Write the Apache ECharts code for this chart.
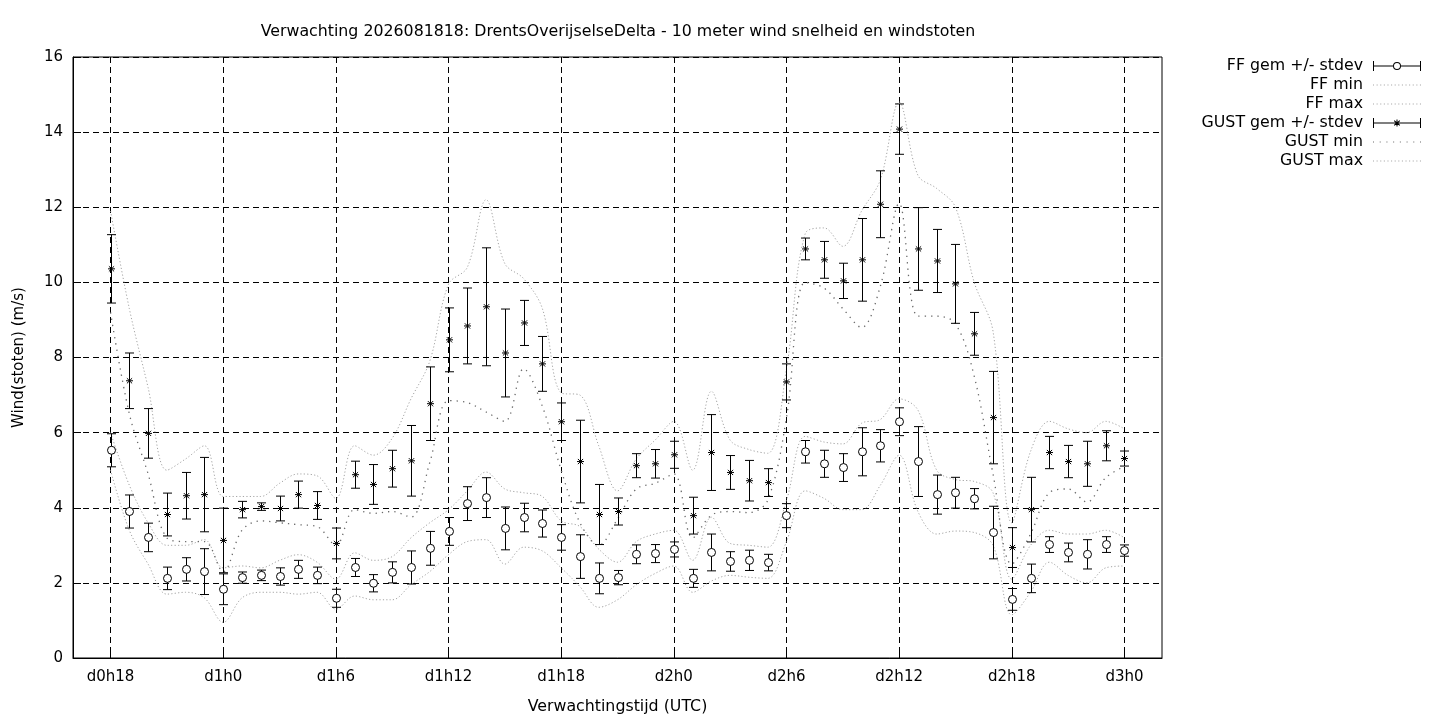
<!DOCTYPE html>
<html>
<head>
<meta charset="utf-8">
<script src="https://cdn.jsdelivr.net/npm/echarts@6/dist/echarts.min.js"></script>
<style>
html,body{margin:0;padding:0;background:#fff;}
#chart{width:1440px;height:720px;}
</style>
</head>
<body>
<div id="chart"></div>
<script>
// ---- data (lead time in hours after d0h18) ----
const leadHours = [0,1,2,3,4,5,6,7,8,9,10,11,12,13,14,15,16,17,18,19,20,21,22,23,24,25,26,27,28,29,30,31,32,33,34,35,36,37,38,39,40,41,42,43,44,45,46,47,48,49,50,51,52,53,54];
const tickLabels = ['d0h18','d1h0','d1h6','d1h12','d1h18','d2h0','d2h6','d2h12','d2h18','d3h0'];
const ffMean = [5.53,3.90,3.21,2.12,2.36,2.30,1.83,2.14,2.20,2.17,2.36,2.20,1.59,2.41,1.99,2.28,2.41,2.92,3.37,4.11,4.27,3.45,3.74,3.58,3.21,2.70,2.12,2.14,2.76,2.78,2.89,2.12,2.81,2.57,2.60,2.54,3.79,5.49,5.17,5.07,5.49,5.65,6.29,5.23,4.35,4.40,4.24,3.34,1.56,2.12,3.02,2.81,2.76,3.02,2.86];
const ffSd = [0.44,0.44,0.38,0.30,0.31,0.61,0.41,0.15,0.14,0.23,0.24,0.22,0.24,0.24,0.23,0.28,0.44,0.45,0.37,0.45,0.53,0.57,0.38,0.36,0.34,0.58,0.41,0.19,0.25,0.24,0.20,0.24,0.49,0.26,0.27,0.22,0.32,0.30,0.36,0.37,0.64,0.43,0.37,0.93,0.52,0.41,0.27,0.70,0.29,0.38,0.21,0.25,0.39,0.21,0.15];
const ffMin = [5.0,3.4,2.5,1.7,1.75,1.6,0.95,1.6,1.75,1.75,1.7,1.75,1.3,1.65,1.55,1.55,1.95,2.3,2.75,3.1,3.15,2.5,2.95,2.85,2.4,1.9,1.35,1.55,1.95,2.25,2.45,1.75,2.05,2.2,2.15,2.12,3.1,4.45,4.25,3.95,3.95,4.6,5.4,3.9,3.3,3.38,3.34,3.0,1.15,1.75,2.55,2.2,2.0,2.4,2.45];
const ffMax = [6.0,4.6,3.6,3.0,3.0,3.15,2.4,2.45,2.4,2.6,2.75,2.55,2.1,2.8,2.6,2.7,3.2,3.6,3.95,4.45,4.95,4.5,4.4,4.3,3.65,3.5,2.9,2.55,3.1,3.3,3.4,2.6,3.75,3.05,3.0,2.95,4.2,5.9,5.75,5.7,6.25,6.35,6.9,6.6,5.0,4.75,4.7,4.4,2.1,3.0,3.4,3.3,3.3,3.4,3.2];
const gustMean = [10.36,7.38,5.98,3.82,4.32,4.35,3.13,3.95,4.03,3.98,4.35,4.06,3.05,4.88,4.62,5.04,5.25,6.77,8.47,8.84,9.35,8.12,8.92,7.83,6.29,5.23,3.82,3.90,5.12,5.17,5.41,3.79,5.47,4.94,4.72,4.67,7.35,10.89,10.60,10.04,10.60,12.08,14.08,10.89,10.57,9.96,8.63,6.40,2.94,3.95,5.47,5.23,5.17,5.65,5.31];
const gustSd = [0.91,0.74,0.66,0.57,0.62,0.99,0.86,0.22,0.10,0.33,0.36,0.37,0.41,0.36,0.53,0.49,0.94,0.98,0.85,1.01,1.57,1.17,0.60,0.73,0.50,1.10,0.80,0.36,0.32,0.38,0.36,0.49,1.01,0.45,0.54,0.37,0.48,0.29,0.49,0.47,1.10,0.89,0.67,1.10,0.84,1.05,0.57,1.23,0.53,0.86,0.43,0.43,0.60,0.40,0.20];
const gustMin = [9.2,6.5,4.9,3.2,3.1,3.1,2.3,3.4,3.65,3.6,3.55,3.5,3.0,3.95,3.85,3.9,3.75,5.2,6.85,6.8,6.55,6.3,7.7,6.7,5.0,3.6,3.0,3.7,4.5,4.65,4.9,3.2,3.8,3.9,3.87,4.2,6.4,10.0,9.85,9.3,8.8,9.9,12.1,9.1,9.1,8.9,7.5,4.9,2.5,3.3,4.4,4.5,4.15,4.8,5.1];
const gustMax = [11.9,9.3,7.2,5.0,5.3,5.65,4.3,4.3,4.3,4.65,4.9,4.85,4.25,5.65,5.4,5.85,6.9,7.9,9.95,10.4,12.2,10.5,10.1,9.3,7.06,7.0,5.65,4.45,5.3,5.8,6.3,5.0,7.1,5.8,5.55,5.45,7.7,11.3,11.45,10.96,11.9,12.73,14.8,12.85,12.5,12.0,10.0,8.7,3.6,5.5,6.3,6.1,6.0,6.3,6.1];

const axisStartHour = -2, axisEndHour = 56, labelStep = 6;
const FONT = 'DejaVu Sans';

// axis categories: one per hour
const hourCats = [];
for (let h = axisStartHour; h <= axisEndHour; h++) hourCats.push(String(h));
const isMajor = (idx) => {
  const h = idx + axisStartHour;
  return h >= 0 && h % labelStep === 0 && (h / labelStep) < tickLabels.length;
};

const idxOf = (h) => h - axisStartHour;
const errData = (mean, sd) => leadHours.map((h, i) => [idxOf(h), mean[i], sd[i]]);
const lineData = (arr) => leadHours.map((h, i) => [idxOf(h), arr[i]]);

function makeErrRender(marker) {
  return function (params, api) {
    const x = api.value(0), m = api.value(1), s = api.value(2);
    const hi = api.coord([x, m + s]);
    const lo = api.coord([x, m - s]);
    const mid = api.coord([x, m]);
    const px = Math.round(hi[0]) + 0.5;
    const cw = 4.5;
    const st = { stroke: '#000', lineWidth: 1 };
    const children = [
      { type: 'line', shape: { x1: px, y1: hi[1], x2: px, y2: lo[1] }, style: st },
      { type: 'line', shape: { x1: px - cw, y1: hi[1], x2: px + cw, y2: hi[1] }, style: st },
      { type: 'line', shape: { x1: px - cw, y1: lo[1], x2: px + cw, y2: lo[1] }, style: st }
    ];
    if (marker === 'circle') {
      children.push({ type: 'circle', shape: { cx: px, cy: mid[1], r: 4 }, style: { fill: '#fff', stroke: '#000', lineWidth: 1 } });
    } else {
      const r = 3.5, d = 2.6;
      const y = mid[1];
      children.push({ type: 'line', shape: { x1: px - r, y1: y, x2: px + r, y2: y }, style: st });
      children.push({ type: 'line', shape: { x1: px, y1: y - r, x2: px, y2: y + r }, style: st });
      children.push({ type: 'line', shape: { x1: px - d, y1: y - d, x2: px + d, y2: y + d }, style: st });
      children.push({ type: 'line', shape: { x1: px - d, y1: y + d, x2: px + d, y2: y - d }, style: st });
    }
    return { type: 'group', children };
  };
}

const ffIcon = 'path://M0,0 h1 v10 h-1 Z M1,4.5 h19 v1 h-19 Z M28,4.5 h19 v1 h-19 Z M47,0 h1 v10 h-1 Z M20,5 A4,4 0 1,1 28,5 A4,4 0 1,1 20,5 Z M21,5 A3,3 0 1,0 27,5 A3,3 0 1,0 21,5 Z';
const gustIcon = 'path://M0,0 h1 v10 h-1 Z M1,4.5 h46 v1 h-46 Z M47,0 h1 v10 h-1 Z M23.5,1.5 h1 v7 h-1 Z M20.8,2.9 L21.5,2.2 L27.2,7.1 L26.5,7.8 Z M26.5,2.2 L27.2,2.9 L21.5,7.8 L20.8,7.1 Z';
function dotIcon(step) {
  let p = 'path://';
  for (let x = 0; x <= 47; x += step) p += 'M' + x.toFixed(2) + ',4.5 h1 v1 h-1 Z ';
  return p;
}

const lightColor = '#a5a5a5', darkColor = '#6a6a6a';
const lightDot = { color: lightColor, width: 1, type: [1.2, 2.2] };
const gustMinDot = { color: darkColor, width: 1.3, type: [1.3, 5] };

const chart = echarts.init(document.getElementById('chart'), null, { renderer: 'canvas' });
const option = {
  animation: false,
  backgroundColor: '#fff',
  textStyle: { fontFamily: FONT, color: '#000' },
  title: {
    text: 'Verwachting 2026081818: DrentsOverijselseDelta - 10 meter wind snelheid en windstoten',
    left: 613, top: 19, textAlign: 'center',
    textStyle: { fontFamily: FONT, fontSize: 15.8, fontWeight: 'normal', color: '#000' }
  },
  legend: {
    orient: 'vertical', align: 'right', right: 14, top: 53,
    itemWidth: 48, itemHeight: 10, itemGap: 3,
    textStyle: { fontFamily: FONT, fontSize: 15.8, color: '#000', padding: [0, 5, 0, 0] },
    data: [
      { name: 'FF gem +/- stdev', icon: ffIcon, itemStyle: { color: '#000', borderWidth: 0 } },
      { name: 'FF min', icon: dotIcon(3.4), itemStyle: { color: lightColor, borderWidth: 0 } },
      { name: 'FF max', icon: dotIcon(3.4), itemStyle: { color: lightColor, borderWidth: 0 } },
      { name: 'GUST gem +/- stdev', icon: gustIcon, itemStyle: { color: '#000', borderWidth: 0 } },
      { name: 'GUST min', icon: dotIcon(6.7), itemStyle: { color: darkColor, borderWidth: 0 } },
      { name: 'GUST max', icon: dotIcon(3.4), itemStyle: { color: lightColor, borderWidth: 0 } }
    ]
  },
  grid: { left: 73, right: 278, top: 57, bottom: 61, show: true, borderColor: '#000', borderWidth: 1, backgroundColor: 'transparent' },
  xAxis: {
    type: 'category', data: hourCats, boundaryGap: false,
    name: 'Verwachtingstijd (UTC)', nameLocation: 'middle', nameGap: 41,
    nameTextStyle: { fontFamily: FONT, fontSize: 15.8, color: '#000' },
    axisLine: { show: true, lineStyle: { color: '#000', width: 1 } },
    axisTick: { show: true, inside: true, length: 8, interval: (i) => isMajor(i), lineStyle: { color: '#000' } },
    axisLabel: {
      interval: (i) => isMajor(i), margin: 12, fontFamily: FONT, fontSize: 15, color: '#000',
      formatter: (v) => { const h = Number(v); return tickLabels[h / labelStep] || ''; }
    },
    splitLine: { show: true, interval: (i) => isMajor(i), lineStyle: { color: '#000', width: 1, type: [6, 4] } }
  },
  yAxis: {
    type: 'value', min: 0, max: 16, interval: 2,
    name: 'Wind(stoten) (m/s)', nameLocation: 'middle', nameGap: 46, nameRotate: 90,
    nameTextStyle: { fontFamily: FONT, fontSize: 15, color: '#000' },
    axisLine: { show: true, lineStyle: { color: '#000', width: 1 } },
    axisTick: { show: true, inside: true, length: 8, lineStyle: { color: '#000' } },
    axisLabel: { margin: 10, fontFamily: FONT, fontSize: 15, color: '#000' },
    splitLine: { show: true, lineStyle: { color: '#000', width: 1, type: [6, 4] } }
  },
  series: [
    { name: 'FF gem +/- stdev', type: 'custom', renderItem: makeErrRender('circle'), data: errData(ffMean, ffSd), encode: { x: 0, y: 1 }, itemStyle: { color: '#000' }, z: 5, silent: true },
    { name: 'FF min', type: 'line', data: lineData(ffMin), smooth: 0.35, symbol: 'none', lineStyle: lightDot, itemStyle: { color: lightColor }, z: 3, silent: true },
    { name: 'FF max', type: 'line', data: lineData(ffMax), smooth: 0.35, symbol: 'none', lineStyle: lightDot, itemStyle: { color: lightColor }, z: 3, silent: true },
    { name: 'GUST gem +/- stdev', type: 'custom', renderItem: makeErrRender('star'), data: errData(gustMean, gustSd), encode: { x: 0, y: 1 }, itemStyle: { color: '#000' }, z: 5, silent: true },
    { name: 'GUST min', type: 'line', data: lineData(gustMin), smooth: 0.35, symbol: 'none', lineStyle: gustMinDot, itemStyle: { color: darkColor }, z: 3, silent: true },
    { name: 'GUST max', type: 'line', data: lineData(gustMax), smooth: 0.35, symbol: 'none', lineStyle: lightDot, itemStyle: { color: lightColor }, z: 3, silent: true }
  ]
};
chart.setOption(option);
</script>
</body>
</html>
